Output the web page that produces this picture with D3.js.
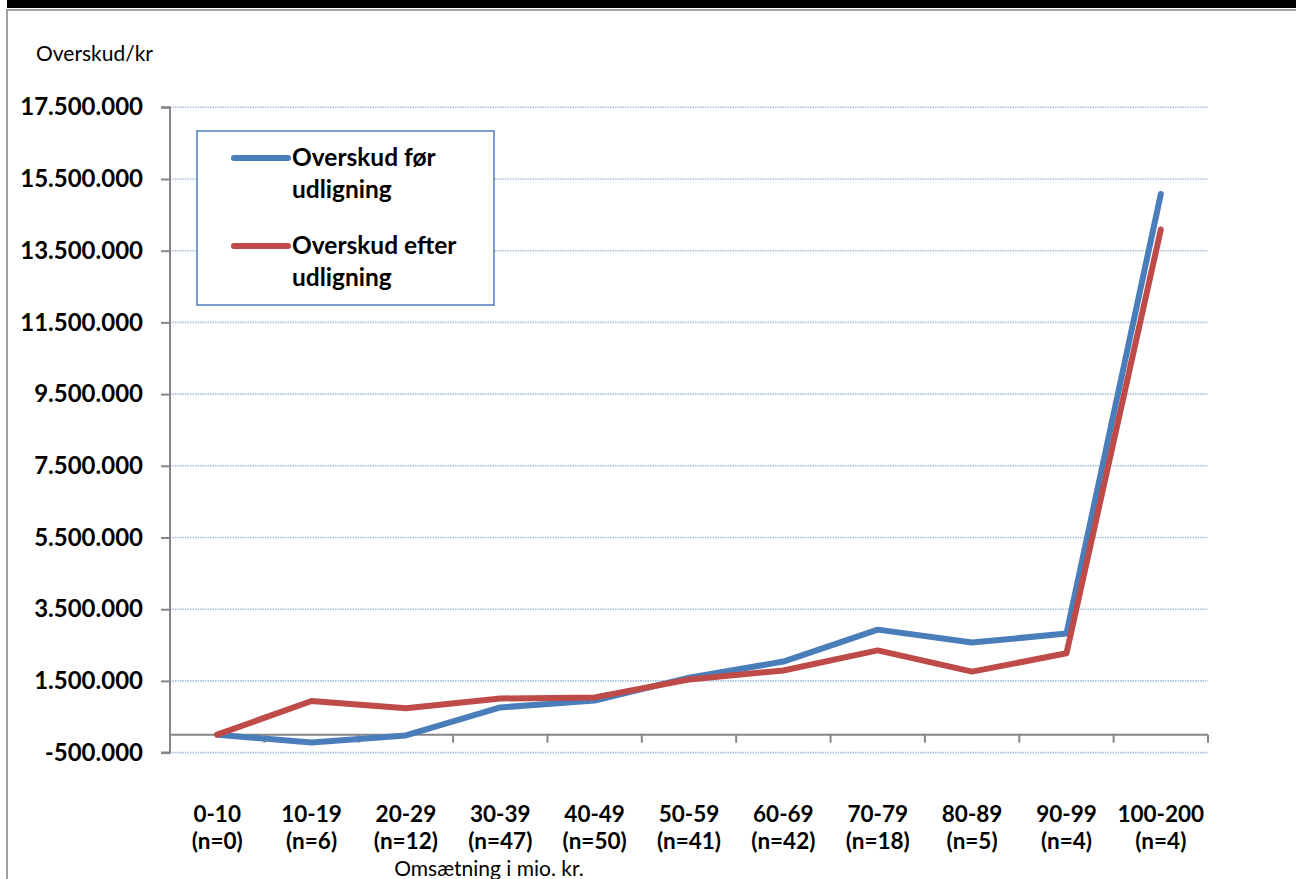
<!DOCTYPE html>
<html><head><meta charset="utf-8">
<script src="https://cdn.jsdelivr.net/npm/d3@7"></script>
<style>
html,body{margin:0;padding:0;background:#fff;}
svg{display:block;}
</style></head>
<body>
<svg id="c" width="1296" height="879"></svg>
<script>
const categories = ["0-10","10-19","20-29","30-39","40-49","50-59","60-69","70-79","80-89","90-99","100-200"];
const counts = ["(n=0)","(n=6)","(n=12)","(n=47)","(n=50)","(n=41)","(n=42)","(n=18)","(n=5)","(n=4)","(n=4)"];
const beforeValues = [0, -220000, -20000, 760000, 950000, 1590000, 2040000, 2930000, 2570000, 2820000, 15080000];
const afterValues  = [0, 940000, 740000, 1010000, 1040000, 1540000, 1790000, 2350000, 1760000, 2270000, 14090000];
const tickValues = [-500000, 1500000, 3500000, 5500000, 7500000, 9500000, 11500000, 13500000, 15500000, 17500000];
const seriesNames = [["Overskud før","udligning"],["Overskud efter","udligning"]];
const seriesColors = ["#4a7ebb","#be4b48"];
const yTitle = "Overskud/kr";
const xTitle = "Omsætning i mio. kr.";

const svg = d3.select("#c");
const font = "Lato, 'Open Sans', sans-serif";

// frame
svg.append("rect").attr("x",7).attr("y",0).attr("width",1289).attr("height",8).attr("fill","#000");
svg.append("line").attr("x1",7).attr("x2",1296).attr("y1",10).attr("y2",10).attr("stroke","#a0a0a0").attr("stroke-width",2);
svg.append("line").attr("x1",7).attr("x2",7).attr("y1",9).attr("y2",879).attr("stroke","#a0a0a0").attr("stroke-width",2);

const x = d3.scaleBand().domain(categories).range([170,1208]).padding(0);
const y = d3.scaleLinear().domain([-500000,17500000]).range([752.6,107.3]);
const loc = d3.formatLocale({decimal:",",thousands:".",grouping:[3],currency:["",""],minus:"-"});
const fmt = loc.format(",d");

// gridlines
svg.append("g").selectAll("line").data(tickValues).join("line")
  .attr("x1",170).attr("x2",1208)
  .attr("y1",d=>y(d)).attr("y2",d=>y(d))
  .attr("stroke","#a9c0de").attr("stroke-width",1.6).attr("stroke-dasharray","1.5,1");

// y axis
const yAxis = svg.append("g").attr("transform","translate(170,0)")
  .call(d3.axisLeft(y).tickValues(tickValues).tickSize(9).tickPadding(18).tickFormat(fmt));
yAxis.select(".domain").attr("stroke","#868686").attr("stroke-width",2).attr("d",`M-9,${y(-500000)}H0V${y(17500000)}H-9`);
yAxis.selectAll(".tick line").attr("stroke","#868686").attr("stroke-width",2);
yAxis.selectAll(".tick text").attr("font-family",font).attr("font-weight","bold").attr("font-size",24).attr("fill","#000");

// x axis at zero
const y0 = y(0);
svg.append("line").attr("x1",170).attr("x2",1208).attr("y1",y0).attr("y2",y0).attr("stroke","#868686").attr("stroke-width",2);
const bounds = categories.map(c=>x(c)).concat([x.range()[1]]);
svg.append("g").selectAll("line").data(bounds).join("line")
  .attr("x1",d=>d).attr("x2",d=>d).attr("y1",y0).attr("y2",y0+8)
  .attr("stroke","#868686").attr("stroke-width",2);

// x labels
const xl = svg.append("g");
categories.forEach((c,i)=>{
  const cx = x(c)+x.bandwidth()/2;
  const t = xl.append("text").attr("x",cx).attr("text-anchor","middle")
    .attr("font-family",font).attr("font-weight","bold").attr("font-size",22.5).attr("fill","#000");
  t.append("tspan").attr("x",cx).attr("y",822).text(c);
  t.append("tspan").attr("x",cx).attr("y",849).text(counts[i]);
});

// titles
svg.append("text").attr("x",36).attr("y",61).attr("font-family",font).attr("font-size",21).attr("fill","#000").text(yTitle);
svg.append("text").attr("x",489).attr("y",876).attr("text-anchor","middle").attr("font-family",font).attr("font-size",21).attr("fill","#000").text(xTitle);

// lines
const line = d3.line().x((d,i)=>x(categories[i])+x.bandwidth()/2).y(d=>y(d));
[beforeValues, afterValues].forEach((vals,k)=>{
  svg.append("path").datum(vals).attr("d",line).attr("fill","none")
    .attr("stroke",seriesColors[k]).attr("stroke-width",6)
    .attr("stroke-linejoin","round").attr("stroke-linecap","round");
});

// legend
const lg = svg.append("g");
lg.append("rect").attr("x",197).attr("y",131).attr("width",297).attr("height",174)
  .attr("fill","#fff").attr("stroke","#4a7ebb").attr("stroke-width",1.5);
const legY = [158,246];
seriesNames.forEach((nm,k)=>{
  lg.append("line").attr("x1",234).attr("x2",288).attr("y1",legY[k]).attr("y2",legY[k])
    .attr("stroke",seriesColors[k]).attr("stroke-width",6).attr("stroke-linecap","round");
  const t = lg.append("text").attr("font-family",font).attr("font-weight","bold").attr("font-size",24.5).attr("fill","#000");
  t.append("tspan").attr("x",292).attr("y",legY[k]+8).text(nm[0]);
  t.append("tspan").attr("x",292).attr("y",legY[k]+40).text(nm[1]);
});
</script>
</body></html>
